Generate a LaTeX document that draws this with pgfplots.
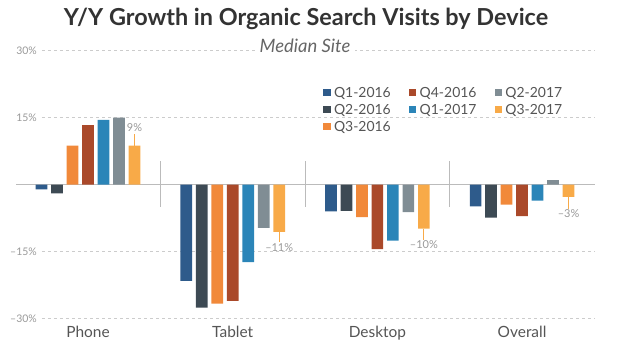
\documentclass[border=0pt]{standalone}
\usepackage{fontspec}
\setmainfont{Lato}
\usepackage{pgfplots}
\pgfplotsset{compat=1.18}
\definecolor{cA}{HTML}{2E5B8B}
\definecolor{cB}{HTML}{3D4A54}
\definecolor{cC}{HTML}{F1893A}
\definecolor{cD}{HTML}{AA492A}
\definecolor{cE}{HTML}{2B85B8}
\definecolor{cF}{HTML}{808D94}
\definecolor{cG}{HTML}{F8AA48}
\definecolor{titlec}{HTML}{333333}
\definecolor{subc}{HTML}{666666}
\definecolor{tickc}{HTML}{999999}
\definecolor{catc}{HTML}{555555}
\definecolor{gridc}{HTML}{CCCCCC}
\definecolor{zeroc}{HTML}{BBBBBB}
\pgfplotsset{mybar/.style={ybar, bar width=11.7bp, bar shift=0pt, fill=#1, draw=none, forget plot}}
\begin{document}
\begin{tikzpicture}[x=1bp,y=1bp]
\begin{axis}[
  at={(0,0)}, anchor=south west, scale only axis,
  width=553bp, height=267.6bp,
  xmin=-0.318, xmax=3.504, ymin=-30, ymax=30,
  clip=false,
  axis line style={draw=none},
  major tick length=0pt,
  ytick={-30,-15,15,30},
  yticklabels={–30\%,–15\%,15\%,30\%},
  yticklabel style={font=\fontsize{10.5}{10.5}\selectfont, text=tickc, inner sep=1bp, xshift=-4bp},
  ymajorgrids,
  grid style={dash pattern=on 3bp off 3bp, gridc, line width=0.8bp},
  xtick={0,1,2,3},
  xticklabels={Phone,Tablet,Desktop,Overall},
  xticklabel style={font=\fontsize{15.5}{15.5}\selectfont, text=catc, text height=11bp, text depth=0pt, inner sep=0pt, yshift=-8.4bp},
  legend columns=3,
  legend style={at={(0.508,0.864)}, anchor=north west, draw=none, fill=none, inner sep=0pt,
    font=\fontsize{14}{14}\selectfont, text=catc,
    nodes={inner sep=0pt, text height=10bp, text depth=0pt},
    row sep=7bp,
    /tikz/every odd column/.append style={column sep=4bp},
    /tikz/every even column/.append style={column sep=18bp}},
  legend cell align=left,
  legend image code/.code={\fill[#1] (0bp,-3.2bp) rectangle (6.5bp,3.3bp);},
]
\draw[zeroc, line width=0.9bp] (axis cs:-0.4976,0) -- (axis cs:3.504,0);
\draw[zeroc, line width=0.9bp] (axis cs:0.5,5.2) -- (axis cs:0.5,-5);
\draw[zeroc, line width=0.9bp] (axis cs:1.5,5.2) -- (axis cs:1.5,-5);
\draw[zeroc, line width=0.9bp] (axis cs:2.5,5.2) -- (axis cs:2.5,-5);
% Q1-2016
\addplot[mybar=cA] coordinates {(-0.3213,-1.1) (0.6787,-21.6) (1.6787,-6.0) (2.6787,-4.9)};
% Q2-2016
\addplot[mybar=cB] coordinates {(-0.2142,-2.0) (0.7858,-27.6) (1.7858,-5.9) (2.7858,-7.4)};
% Q3-2016
\addplot[mybar=cC] coordinates {(-0.1071,8.7) (0.8929,-26.7) (1.8929,-7.3) (2.8929,-4.5)};
% Q4-2016
\addplot[mybar=cD] coordinates {(0,13.3) (1,-26.1) (2,-14.5) (3,-7.1)};
% Q1-2017
\addplot[mybar=cE] coordinates {(0.1071,14.5) (1.1071,-17.4) (2.1071,-12.6) (3.1071,-3.6)};
% Q2-2017
\addplot[mybar=cF] coordinates {(0.2142,15.0) (1.2142,-9.7) (2.2142,-6.2) (3.2142,1.0)};
% Q3-2017
\addplot[mybar=cG] coordinates {(0.3213,8.7) (1.3213,-10.6) (2.3213,-9.9) (3.3213,-2.8)};
% legend (column-major order as in the reference)
\addlegendimage{cA}\addlegendentry{Q1-2016}
\addlegendimage{cD}\addlegendentry{Q4-2016}
\addlegendimage{cF}\addlegendentry{Q2-2017}
\addlegendimage{cB}\addlegendentry{Q2-2016}
\addlegendimage{cE}\addlegendentry{Q1-2017}
\addlegendimage{cG}\addlegendentry{Q3-2017}
\addlegendimage{cC}\addlegendentry{Q3-2016}
% value labels
\draw[cG, line width=0.9bp] (axis cs:0.3213,8.7) -- (axis cs:0.3213,11.4);
\node[anchor=south, font=\fontsize{11}{11}\selectfont, text=tickc, inner sep=1bp] at (axis cs:0.3213,11.6) {9\%};
\draw[cG, line width=0.9bp] (axis cs:1.3213,-10.6) -- (axis cs:1.3213,-12.9);
\node[anchor=north, font=\fontsize{11}{11}\selectfont, text=tickc, inner sep=1bp] at (axis cs:1.3213,-12.9) {–11\%};
\draw[cG, line width=0.9bp] (axis cs:2.3213,-9.9) -- (axis cs:2.3213,-12.4);
\node[anchor=north, font=\fontsize{11}{11}\selectfont, text=tickc, inner sep=1bp] at (axis cs:2.3213,-12.4) {–10\%};
\draw[cG, line width=0.9bp] (axis cs:3.3213,-2.8) -- (axis cs:3.3213,-5.4);
\node[anchor=north, font=\fontsize{11}{11}\selectfont, text=tickc, inner sep=1bp] at (axis cs:3.3213,-5.4) {–3\%};
\end{axis}
\node[anchor=base, font=\bfseries\fontsize{23.5}{23.5}\selectfont, text=titlec] at (264,293.3) {Y/Y Growth in Organic Search Visits by Device};
\node[anchor=base, fill=white, font=\itshape\fontsize{18.5}{18.5}\selectfont, text=subc, inner xsep=5bp, inner ysep=2bp] at (263,265.6) {Median Site};
\pgfresetboundingbox
\path[use as bounding box] (-42,-36.7) rectangle (590,318.3);
\end{tikzpicture}
\end{document}
